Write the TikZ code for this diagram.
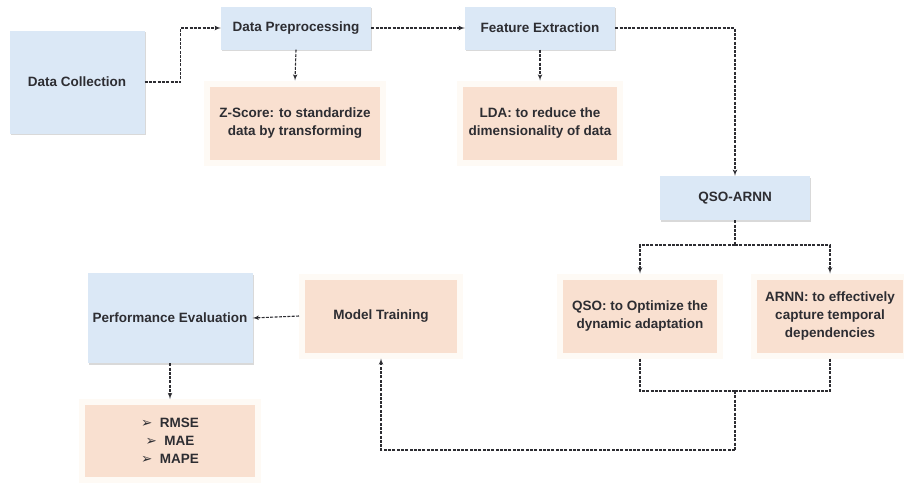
\documentclass[tikz,border=0pt]{standalone}
\usepackage{fontspec}
\setmainfont{Liberation Sans}
\newfontfamily\symfont{DejaVu Sans}
\usepackage{xcolor}
\usepackage{tikz}
\usetikzlibrary{shapes,arrows,shadows}
\definecolor{blueish}{RGB}{219,232,246}
\definecolor{peach}{RGB}{249,224,208}
\definecolor{halo}{RGB}{254,250,245}
\definecolor{ink}{RGB}{45,45,50}
\tikzstyle{stage} = [rectangle, fill=blueish, text=ink, font=\bfseries\fontsize{13.5}{18}\selectfont, align=center, drop shadow={opacity=0.3, shadow xshift=1pt, shadow yshift=-1.5pt}]
\tikzstyle{detail} = [rectangle, fill=peach, draw=halo, line width=6pt, text=ink, font=\bfseries\fontsize{13.5}{18}\selectfont, align=center]
\tikzstyle{line} = [draw, ink, line width=1.1pt, dash pattern=on 3pt off 1.3pt, -latex']
\tikzstyle{joint} = [draw, ink, line width=1.1pt, dash pattern=on 3pt off 1.3pt]
\newcommand{\pointer}{{\normalfont\symfont ➢}\ \ }

\begin{document}
\begin{tikzpicture}[x=1pt, y=-1pt]
\useasboundingbox (0,0) rectangle (904,483);
\node [stage, minimum width=135pt, minimum height=103pt] (collect) at (77,82) {Data Collection};
\node [stage, minimum width=150pt, minimum height=43pt] (prep) at (296,28) {Data Preprocessing};
\node [detail, minimum width=176pt, minimum height=79pt] (zscore) at (295,123) {Z-Score: to standardize\\data by transforming};
\node [stage, minimum width=150pt, minimum height=43pt] (feat) at (540,28) {Feature Extraction};
\node [detail, minimum width=160pt, minimum height=79pt] (lda) at (540,123) {LDA:\ to reduce the\\dimensionality of data};
\node [stage, minimum width=150pt, minimum height=44pt] (qsoarnn) at (735,198) {QSO-ARNN};
\node [detail, minimum width=160pt, minimum height=79pt] (qso) at (640,316) {QSO:\ to Optimize the\\dynamic adaptation};
\node [detail, minimum width=152pt, minimum height=79pt] (arnn) at (830,316) {ARNN:\ to effectively\\capture temporal\\dependencies};
\node [detail, minimum width=158pt, minimum height=79pt] (train) at (381,316) {Model Training};
\node [stage, minimum width=165pt, minimum height=90pt] (perf) at (170,318) {Performance Evaluation};
\node [detail, minimum width=176pt, minimum height=78pt] (metrics) at (170,441) {\pointer RMSE\\\pointer MAE\ \ \\\pointer MAPE};
\coordinate (split) at (735,245);
\coordinate (merge) at (735,391);
\coordinate (back) at (735,450);
\path [line] (collect.east) -- ++(36,0) |- (prep.west);
\path [line] (prep.east) -- (feat.west);
\path [line] (prep.south) -- (zscore.north);
\path [line] (feat.south) -- (lda.north);
\path [line] (feat.east) -| (qsoarnn.north);
\path [joint] (qsoarnn.south) -- (split);
\path [line] (split) -| (qso.north);
\path [line] (split) -| (arnn.north);
\path [joint] (qso.south) |- (merge);
\path [joint] (arnn.south) |- (merge);
\path [joint] (merge) -- (back);
\path [line] (back) -| (train.south);
\path [line] (train.west) -- (perf.east);
\path [line] (perf.south) -- (metrics.north);
\end{tikzpicture}
\end{document}
